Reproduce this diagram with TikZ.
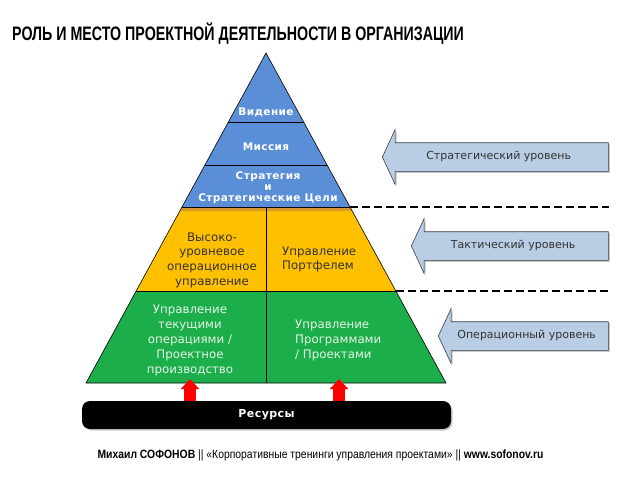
\documentclass[tikz,border=0pt]{standalone}
\usepackage{fontspec}
\setmainfont{DejaVu Sans}
\newfontfamily\headfont{Liberation Sans}
\newfontfamily\widefont[LetterSpace=4]{DejaVu Sans}
\usetikzlibrary{arrows.meta,positioning,shapes.arrows,shadows,calc}
\definecolor{pyrblue}{HTML}{5A8ED6}
\definecolor{pyrorange}{HTML}{FFC000}
\definecolor{pyrstripe}{HTML}{D99A2B}
\definecolor{pyrgreen}{HTML}{1DAE4C}
\definecolor{lvlfill}{HTML}{B9CDE5}
\definecolor{lvledge}{HTML}{3A3F4A}
\definecolor{txtdark}{HTML}{333333}
\definecolor{txtpale}{HTML}{E4F5E4}
\tikzset{
  band/.style={draw=black,line width=0.6pt},
  bluetext/.style={text=white,align=center,inner sep=0pt,font=\widefont\bfseries\fontsize{10.5}{11}\selectfont},
  orangetext/.style={text=txtdark,align=center,inner sep=0pt,font=\fontsize{11.8}{14.7}\selectfont},
  greentext/.style={orangetext,text=txtpale,font=\fontsize{11.8}{15}\selectfont},
  lvlarrow/.style={single arrow,shape border rotate=180,anchor=tip,draw=lvledge,line width=0.6pt,fill=lvlfill,
    single arrow head extend=13pt,single arrow tip angle=130,inner ysep=9.5pt,text height=7pt,text depth=2pt,
    text=txtdark,font=\fontsize{11}{12}\selectfont,
    drop shadow={opacity=0.45,shadow xshift=1.5pt,shadow yshift=-1.5pt}},
  resbar/.style={fill=black,rounded corners=8pt,minimum width=369pt,minimum height=28pt,text=white,
    font=\widefont\bfseries\fontsize{11}{12}\selectfont,drop shadow={opacity=0.4,shadow xshift=1.5pt,shadow yshift=-1.5pt}},
  resarrow/.style={red,line width=12pt,-{Triangle[length=10pt,width=18pt]}},
  levelcut/.style={black,line width=1.8pt,dash pattern=on 8pt off 4pt},
}
\begin{document}
\begin{tikzpicture}[x=1pt,y=-1pt]
  \useasboundingbox (0,0) rectangle (638,479);
  % title and footer
  \node[anchor=base west,inner sep=0pt,font=\headfont\bfseries\fontsize{19.5}{22}\selectfont] (title) at (12,41)
    {\scalebox{0.73}[1]{РОЛЬ И МЕСТО ПРОЕКТНОЙ ДЕЯТЕЛЬНОСТИ В ОРГАНИЗАЦИИ}};
  \node[anchor=base,inner sep=0pt,font=\headfont\fontsize{12}{14}\selectfont] (footer) at (320.5,458)
    {\scalebox{0.865}[1]{\textbf{Михаил СОФОНОВ} || «Корпоративные тренинги управления проектами» || \textbf{www.sofonov.ru}}};
  % pyramid corners
  \coordinate (apex) at (266,53);
  \coordinate (stratL) at (182,207);
  \coordinate (stratR) at (350,207);
  \coordinate (tactL) at (136,291);
  \coordinate (tactR) at (396,291);
  \coordinate (baseL) at (86,383);
  \coordinate (baseR) at (446,383);
  % dashed level borders
  \coordinate (cutA) at (609,207);
  \coordinate (cutB) at (609,291);
  \draw[levelcut] (stratR) -- (cutA);
  \draw[levelcut] (tactR) -- (cutB);
  % bands
  \fill[pyrblue] (apex) -- (stratR) -- (stratL) -- cycle;
  \fill[pyrorange] (stratL) -- (stratR) -- (tactR) -- (tactL) -- cycle;
  \fill[pyrstripe] (stratL) -- (stratR) -- (352.2,211) -- (179.8,211) -- cycle;
  \fill[pyrgreen] (tactL) -- (tactR) -- (baseR) -- (baseL) -- cycle;
  \draw[band] (apex) -- (baseR) -- (baseL) -- cycle;
  \draw[band] (228.4,122) -- (303.6,122);
  \draw[band] (205,165) -- (327,165);
  \draw[band] (stratL) -- (stratR);
  \draw[band] (tactL) -- (tactR);
  \draw[band] (266,207) -- (266,383);
  % band texts
  \node[bluetext] (vision) at (266,112) {Видение};
  \node[bluetext] (mission) at (266,147) {Миссия};
  \node[bluetext] (strategy) at (268,188) {Стратегия\\и\\Стратегические Цели};
  \node[orangetext] (hlops) at (212,260) {Высоко-\\уровневое\\операционное\\управление};
  \node[orangetext,align=left,anchor=west] (portfolio) at (282,259.5) {Управление\\Портфелем};
  \node[greentext] (curops) at (190,340) {Управление\\текущими\\операциями /\\Проектное\\производство};
  \node[greentext,align=left,anchor=west] (programs) at (295,340) {Управление\\Программами\\/ Проектами};
  % level arrows
  \node[lvlarrow,minimum height=226pt] (strlevel) at (382,157) {Стратегический уровень};
  \node[lvlarrow,minimum height=197pt] (taclevel) at (411,246) {Тактический уровень};
  \node[lvlarrow,minimum height=170pt] (oplevel) at (438,336) {Операционный уровень};
  % resources
  \node[resbar] (res) at (266.5,415) {Ресурсы};
  \coordinate (feedL) at (190,379);
  \coordinate (feedR) at (339,379);
  \draw[resarrow] (res.north -| feedL) -- (feedL);
  \draw[resarrow] (res.north -| feedR) -- (feedR);
\end{tikzpicture}
\end{document}
